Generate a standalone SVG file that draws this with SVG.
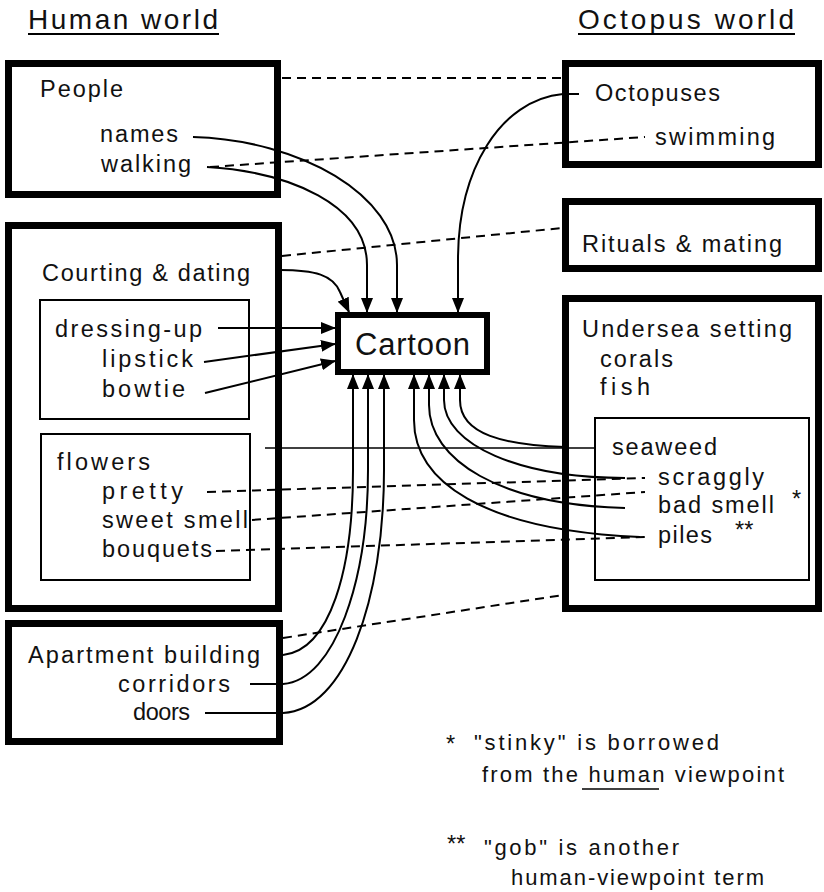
<svg xmlns="http://www.w3.org/2000/svg" width="824" height="892" viewBox="0 0 824 892">
<defs>
<marker id="ah" markerWidth="15" markerHeight="12" refX="14" refY="6" orient="auto" markerUnits="userSpaceOnUse"><path d="M0,0 L15,6 L0,12 z" fill="#000"/></marker>
<style>
text{font-family:"Liberation Sans",Arial,sans-serif;fill:#111;font-size:23.5px}
.h{font-size:28px}
.big{font-size:31px}
.fn{font-size:22px}
.thick{fill:#fff;stroke:#000;stroke-width:7}
.thin{fill:none;stroke:#000;stroke-width:2}
.c{fill:none;stroke:#000;stroke-width:2}
.d{fill:none;stroke:#000;stroke-width:2;stroke-dasharray:9 6}
.s{fill:none;stroke:#000;stroke-width:1.3}
</style>
</defs>
<rect width="824" height="892" fill="#fff"/>
<g id="headings">
<text class="h" x="28" y="29" textLength="190" lengthAdjust="spacing">Human world</text>
<line x1="28" y1="34" x2="219" y2="34" stroke="#000" stroke-width="2"/>
<text class="h" x="578" y="29" textLength="216" lengthAdjust="spacing">Octopus world</text>
<line x1="578" y1="34" x2="795" y2="34" stroke="#000" stroke-width="2"/>
</g>
<g id="people">
<rect class="thick" x="8.5" y="63.5" width="269" height="131"/>
<text x="40" y="97" textLength="83" lengthAdjust="spacing">People</text>
<text x="100" y="142" textLength="78" lengthAdjust="spacing">names</text>
<text x="101" y="172" textLength="90" lengthAdjust="spacing">walking</text>
</g>
<g id="courting">
<rect class="thick" x="8.5" y="225.5" width="270" height="383"/>
<text x="42" y="281" textLength="208" lengthAdjust="spacing">Courting &amp; dating</text>
</g>
<g id="dressing">
<rect class="thin" x="40" y="300" width="209" height="119"/>
<text x="55" y="337" textLength="147" lengthAdjust="spacing">dressing-up</text>
<text x="102" y="367" textLength="91" lengthAdjust="spacing">lipstick</text>
<text x="102" y="397" textLength="83" lengthAdjust="spacing">bowtie</text>
</g>
<g id="flowers">
<rect class="thin" x="41" y="434" width="209" height="146"/>
<text x="57" y="470" textLength="93" lengthAdjust="spacing">flowers</text>
<text x="102" y="499" textLength="81" lengthAdjust="spacing">pretty</text>
<text x="102" y="528" textLength="146" lengthAdjust="spacing">sweet smell</text>
<text x="102" y="557" textLength="110" lengthAdjust="spacing">bouquets</text>
</g>
<g id="apartment">
<rect class="thick" x="8.5" y="623.5" width="271" height="118"/>
<text x="28" y="663" textLength="232" lengthAdjust="spacing">Apartment building</text>
<text x="118" y="692" textLength="112" lengthAdjust="spacing">corridors</text>
<text x="133" y="720" textLength="57" lengthAdjust="spacing">doors</text>
</g>
<g id="octopuses">
<rect class="thick" x="565.5" y="63.5" width="253" height="101"/>
<text x="595" y="101" textLength="125" lengthAdjust="spacing">Octopuses</text>
<text x="655" y="145" textLength="120" lengthAdjust="spacing">swimming</text>
</g>
<g id="rituals">
<rect class="thick" x="565.5" y="201.5" width="253" height="67"/>
<text x="582" y="252" textLength="200" lengthAdjust="spacing">Rituals &amp; mating</text>
</g>
<g id="undersea">
<rect class="thick" x="565.5" y="298.5" width="253" height="310"/>
<text x="582" y="337" textLength="210" lengthAdjust="spacing">Undersea setting</text>
<text x="600" y="367" textLength="73" lengthAdjust="spacing">corals</text>
<text x="600" y="395" textLength="50" lengthAdjust="spacing">fish</text>
</g>
<g id="seaweed">
<rect class="thin" x="595" y="418" width="214" height="162"/>
<text x="612" y="455" textLength="105" lengthAdjust="spacing">seaweed</text>
<text x="658" y="485" textLength="106" lengthAdjust="spacing">scraggly</text>
<text x="658" y="513" textLength="116" lengthAdjust="spacing">bad smell</text>
<text x="792" y="507" font-size="16">*</text>
<text x="658" y="543" textLength="54" lengthAdjust="spacing">piles</text>
<text x="735" y="538" font-size="16">**</text>
</g>
<g id="cartoon">
<rect x="338" y="315" width="149" height="57" fill="#fff" stroke="#000" stroke-width="6"/>
<text class="big" x="355" y="355" textLength="115" lengthAdjust="spacing">Cartoon</text>
</g>
<g id="connectors">
<path class="d" d="M282,78 L563,78"/>
<path class="d" d="M210,167 L645,137"/>
<path class="d" d="M282,256 L562,228"/>
<path class="s" d="M265,448 L595,448"/>
<path class="d" d="M207,492 L645,478"/>
<path class="d" d="M252,520 L645,492"/>
<path class="d" d="M216,551 L645,537"/>
<path class="d" d="M283,638 L563,595"/>
<path class="c" d="M193,137 C300,140 397,195 397,265 L397,312" marker-end="url(#ah)"/>
<path class="c" d="M207,167 C290,172 367,205 367,265 L367,312" marker-end="url(#ah)"/>
<path class="c" d="M280,270 C315,270 333,275 340,292 L349,312" marker-end="url(#ah)"/>
<path class="c" d="M579,94 L563,94 C500,100 458,170 458,260 L458,312" marker-end="url(#ah)"/>
<path class="c" d="M218,328 L335,328" marker-end="url(#ah)"/>
<path class="c" d="M204,362 L335,344" marker-end="url(#ah)"/>
<path class="c" d="M205,393 L335,361" marker-end="url(#ah)"/>
<path class="c" d="M283,655 C330,650 353,570 353,470 L353,375" marker-end="url(#ah)"/>
<path class="c" d="M250,684 L283,684 C335,680 368,580 368,470 L368,375" marker-end="url(#ah)"/>
<path class="c" d="M205,713 L283,713 C345,710 384,600 384,470 L384,375" marker-end="url(#ah)"/>
<path class="c" d="M640,537 C480,530 414,480 414,420 L414,375" marker-end="url(#ah)"/>
<path class="c" d="M625,508 C500,505 429,460 429,405 L429,375" marker-end="url(#ah)"/>
<path class="c" d="M625,478 C520,478 444,445 444,400 L444,375" marker-end="url(#ah)"/>
<path class="c" d="M565,447 C505,445 460,435 460,400 L460,375" marker-end="url(#ah)"/>
</g>
<g id="footnotes">
<text x="446" y="752" font-size="16">*</text>
<text class="fn" x="474" y="750" textLength="245" lengthAdjust="spacing">"stinky" is borrowed</text>
<text class="fn" x="482" y="782" textLength="302" lengthAdjust="spacing">from the human viewpoint</text>
<line x1="582" y1="789" x2="659" y2="789" stroke="#000" stroke-width="1.5"/>
<text x="447" y="852" font-size="16">**</text>
<text class="fn" x="484" y="855" textLength="195" lengthAdjust="spacing">"gob" is another</text>
<text class="fn" x="511" y="885" textLength="253" lengthAdjust="spacing">human-viewpoint term</text>
</g>
</svg>
